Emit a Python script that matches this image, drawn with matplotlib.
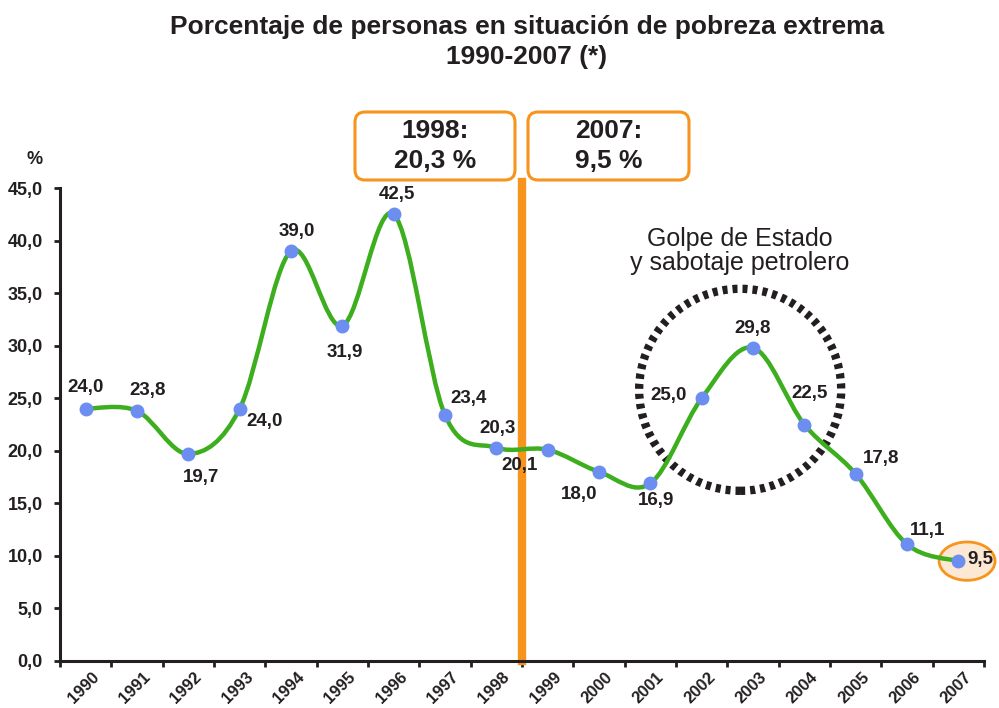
import matplotlib
matplotlib.use("Agg")
import matplotlib.pyplot as plt
from matplotlib.path import Path
from matplotlib.patches import PathPatch, Ellipse, FancyBboxPatch
import numpy as np

plt.rcParams['font.family'] = ['Liberation Sans', 'DejaVu Sans']

years = ["1990", "1991", "1992", "1993", "1994", "1995", "1996", "1997", "1998",
         "1999", "2000", "2001", "2002", "2003", "2004", "2005", "2006", "2007"]
values = [24.0, 23.8, 19.7, 24.0, 39.0, 31.9, 42.5, 23.4, 20.3,
          20.1, 18.0, 16.9, 25.0, 29.8, 22.5, 17.8, 11.1, 9.5]
yticks = [0, 5, 10, 15, 20, 25, 30, 35, 40, 45]
# label offsets (points) for each data label
offsets = [(0, 15), (8, 15), (9, -17), (18, -9), (4, 14), (2, -19), (2, 14), (17, 12),
           (1, 14), (-20, -11), (-14, -16), (4, -12), (-24, 2), (0, 14), (4, 22),
           (18, 11), (15, 10), (16, 1)]

GREEN = "#3DAE1E"
BLUE = "#6C8EF0"
ORANGE = "#F7941D"
DARK = "#231F20"

fig = plt.figure(figsize=(9.99, 7.08), dpi=100)
W, H = 999, 708
ax = fig.add_axes([60 / W, (H - 661) / H, (984 - 60) / W, (661 - 188) / H])

xs = np.arange(len(values)) + 0.5
ys = np.array(values)

# smoothed line (Bezier through points, Excel-style)
verts = [(xs[0], ys[0])]
codes = [Path.MOVETO]
n = len(xs)
for i in range(n - 1):
    p0 = np.array([xs[max(i - 1, 0)], ys[max(i - 1, 0)]])
    p1 = np.array([xs[i], ys[i]])
    p2 = np.array([xs[i + 1], ys[i + 1]])
    p3 = np.array([xs[min(i + 2, n - 1)], ys[min(i + 2, n - 1)]])
    c1 = p1 + (p2 - p0) / 6.0
    c2 = p2 - (p3 - p1) / 6.0
    verts += [tuple(c1), tuple(c2), tuple(p2)]
    codes += [Path.CURVE4] * 3
ax.add_patch(PathPatch(Path(verts, codes), facecolor='none', edgecolor=GREEN,
                       lw=3.2, zorder=3, capstyle='round'))

# highlight ellipse around last point
ax.add_patch(Ellipse((17.67, 9.5), 1.09, 3.65, facecolor="#FDE8D4", edgecolor=ORANGE,
                     lw=2.0, zorder=2, clip_on=False))

ax.plot(xs, ys, 'o', color=BLUE, ms=9, zorder=4, clip_on=False)

for x, y, (dx, dy) in zip(xs, ys, offsets):
    ax.annotate(f"{y:.1f}".replace('.', ','), (x, y), xytext=(dx, dy),
                textcoords='offset points', ha='center', va='center',
                fontsize=13.5, fontweight='bold', color=DARK, zorder=5)

# dashed circle
ax.add_patch(Ellipse((13.25, 25.8), 2 * 101 / 51.33, 2 * 101 / 10.51, facecolor='none',
                     edgecolor=DARK, lw=6, linestyle=(0, (0.6, 0.6)), zorder=1,
                     clip_on=False))
ax.text(13.25, 39.0, "Golpe de Estado\ny sabotaje petrolero", ha='center', va='center',
        fontsize=18, color=DARK, linespacing=1.0)

# vertical orange line
ax.axvline(9, ymin=0, ymax=(661 - 182) / (661 - 188), color=ORANGE, lw=6, zorder=2,
           clip_on=False)

ax.set_xlim(0, 18)
ax.set_ylim(0, 45)
ax.set_xticks(np.arange(0, 19))
ax.set_xticklabels([])
for x, lab in zip(xs, years):
    ax.annotate(lab, (x, 0), xytext=(8, -10), textcoords='offset points',
                ha='right', va='center', rotation=45, rotation_mode='anchor',
                fontsize=12, fontweight='bold', color=DARK, annotation_clip=False)
ax.set_yticks(yticks)
ax.set_yticklabels([f"{v:.1f}".replace('.', ',') for v in yticks],
                   fontsize=13, fontweight='bold', color=DARK)
for s in ['top', 'right']:
    ax.spines[s].set_visible(False)
for s in ['left', 'bottom']:
    ax.spines[s].set_linewidth(2.2)
    ax.spines[s].set_color(DARK)
ax.tick_params(axis='both', direction='out', length=4.5, width=2, color=DARK)
ax.tick_params(axis='y', pad=8)
ax.tick_params(axis='x', pad=0)

fig.text(35 / W, 1 - 160 / H, "%", ha='center', va='center', fontsize=13,
         fontweight='bold', color=DARK)

# title
fig.text(527 / W, 1 - 42 / H, "Porcentaje de personas en situación de pobreza extrema\n1990-2007 (*)",
         ha='center', va='center', fontsize=19, fontweight='bold', color=DARK,
         linespacing=1.3)

# boxes
for (x0, x1, txt) in [(355, 515, "1998:\n20,3 %"), (528, 689, "2007:\n9,5 %")]:
    box = FancyBboxPatch((x0 / 100, (H - 180) / 100), (x1 - x0) / 100, 68 / 100,
                         boxstyle="round,pad=0,rounding_size=0.1",
                         transform=fig.dpi_scale_trans, facecolor='white',
                         edgecolor=ORANGE, lw=2.2)
    fig.add_artist(box)
    fig.text((x0 + x1) / 2 / W, 1 - 146 / H, txt, ha='center', va='center',
             fontsize=19, fontweight='bold', color=DARK, linespacing=1.3)

fig.savefig("out.png", dpi=100)
